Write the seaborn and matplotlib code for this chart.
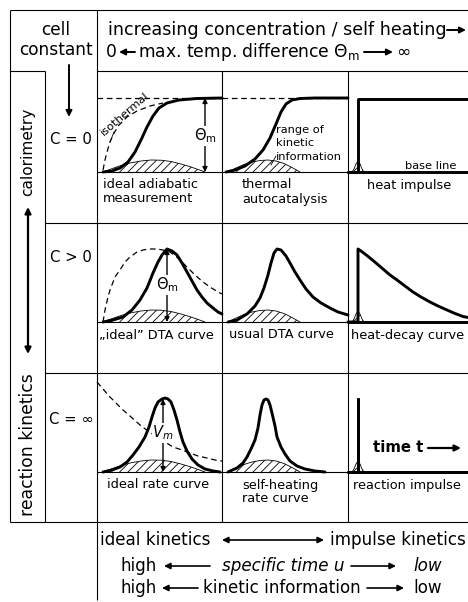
import matplotlib
matplotlib.use("Agg")
import matplotlib.pyplot as plt
import seaborn as sns

sns.set_theme(style="white")
plt.rcParams["font.family"] = ["DejaVu Sans"]
plt.rcParams["mathtext.fontset"] = "dejavusans"
plt.rcParams["hatch.linewidth"] = 0.6

# ---------------- data (panel-local units: px right of panel edge, px above baseline)
R1C1_SOLID_X = [6, 15, 23, 31, 38, 44, 50, 56, 62, 70, 82, 100, 125]
R1C1_SOLID_Y = [0, 1, 4, 10, 20, 32, 45, 56, 64, 69, 72, 73.5, 74]
R1C1_ISO_X = [6, 8, 10, 13, 17, 22, 30, 40, 53, 66]
R1C1_ISO_Y = [2, 12, 20, 30, 39, 47, 55, 61, 66, 69]
R1_TOP_X = [0, 125]
R1_TOP_Y = [74, 74]
R1C2_SOLID_X = [4, 13, 23, 33, 41, 48, 54, 59, 64, 70, 78, 93, 126]
R1C2_SOLID_Y = [0, 2, 6, 13, 22, 34, 48, 60, 68, 72, 73.5, 74, 74]
R1C3_STEP_X = [0, 10, 10, 120]
R1C3_STEP_Y = [0, 0, 73, 73]

R2C1_SOLID_X = [6, 16, 26, 35, 43, 50, 56, 61, 65, 70, 75, 80, 85, 90, 95, 100, 105, 110, 116, 121, 125]
R2C1_SOLID_Y = [0, 2, 5, 12, 22, 34, 49, 60, 67, 73, 71, 67, 59, 50, 41, 32, 25, 19, 14, 10, 8]
R2C1_DASH_X = [6, 8, 11, 13, 18, 23, 28, 33, 40, 46, 53, 60, 66, 73, 81, 90, 98, 106, 113, 121, 125]
R2C1_DASH_Y = [0, 12, 25, 32, 45, 52, 60, 65, 70, 72, 73, 73, 72, 70, 64, 55, 47, 40, 35, 30, 28]
R2C2_SOLID_X = [6, 15, 25, 33, 38, 42, 46, 49, 52, 55, 59, 64, 68, 73, 78, 84, 91, 99, 108, 116, 126]
R2C2_SOLID_Y = [0, 2, 8, 16, 24, 34, 47, 59, 69, 73, 72, 66, 59, 50, 42, 33, 25, 19, 14, 10, 7]
R2C3_DECAY_X = [0, 10, 10, 13, 17, 22, 28, 35, 42, 49, 57, 65, 73, 82, 90, 99, 107, 115, 120]
R2C3_DECAY_Y = [0, 0, 73, 71, 68, 64, 59, 53, 47, 42, 36, 30, 25, 20, 16, 12, 8.5, 5.5, 4.5]

R3C1_DASH_X = [0, 6, 13, 20, 26, 33, 43, 51, 60, 68, 76, 85, 93, 101, 110, 118, 125]
R3C1_DASH_Y = [90, 83, 75, 68, 62, 56, 47, 41, 35, 30, 25, 22, 19, 16, 14, 12, 11]
R3C1_SOLID_X = [6, 15, 23, 30, 36, 42, 48, 52, 55, 58, 61, 65, 68, 71, 74, 77, 80, 83, 86, 90, 95, 101, 108, 116, 123]
R3C1_SOLID_Y = [0, 2, 5, 10, 17, 25, 35, 45, 55, 64, 70, 73, 74, 73, 70, 62, 52, 40, 30, 21, 13, 7, 3, 1, 0]
R3C2_SOLID_X = [6, 15, 21, 25, 29, 33, 36, 38, 40, 42, 44, 46, 48, 50, 53, 55, 59, 63, 68, 75, 83, 93, 103]
R3C2_SOLID_Y = [0, 4, 9, 15, 23, 32, 44, 57, 67, 72, 73, 72, 67, 59, 46, 35, 25, 18, 11, 6, 3, 1, 0]
R3C3_SPIKE_X = [0, 10, 10, 10, 120]
R3C3_SPIKE_Y = [0, 0, 73, 0, 0]

HUMP1_X = [6, 14, 24, 34, 44, 54, 64, 74, 84, 94, 102, 108]
HUMP1_Y = [0, 3, 6.5, 9.2, 11, 12, 11.8, 10.5, 8, 5, 2.2, 0]
HUMP2_X = [6, 14, 22, 30, 38, 46, 54, 62, 70, 78]
HUMP2_Y = [0, 4, 7.5, 10, 11.5, 12, 11, 8.5, 4.5, 0]
HUMP3_X = [4, 6, 8, 10, 12, 14, 16]
HUMP3_Y = [0, 3, 8, 11, 8, 3, 0]

ARROW_HEIGHT = [74, 73, 73]   # Theta_m, Theta_m, V_m
ARROW_X = [108, 70, 66]

C_LABELS = ["C = 0", "C > 0", "C = \u221e"]
PANEL_LABELS = [
    ["ideal adiabatic\nmeasurement", "thermal\nautocatalysis", "heat impulse"],
    ["\u201eideal\u201d DTA curve", "usual DTA curve", "heat-decay curve"],
    ["ideal rate curve", "self-heating\nrate curve", "reaction impulse"],
]

# ---------------- layout
W, H = 468, 602
COL_L = [97, 222, 348]
COL_W = [125, 126, 120]
BASE = [172, 322, 472]
PH = 100

fig = plt.figure(figsize=(W / 100, H / 100), dpi=100)
bg = fig.add_axes([0, 0, 1, 1])
bg.set_xlim(0, W)
bg.set_ylim(H, 0)
bg.axis("off")

K = "black"
thin = 0.8
def rule(xs, ys, lw=thin):
    bg.plot(xs, ys, color=K, lw=lw, solid_capstyle="butt")

# table rules
rule([10, 468], [10, 10])
rule([10, 10], [10, 522])
rule([97, 97], [10, 600])
rule([97, 468], [71, 71])
rule([10, 45], [71, 71])
rule([45, 45], [71, 522])
for x in (222, 348):
    rule([x, x], [71, 522])
for y in (223, 373):
    rule([45, 468], [y, y])
rule([10, 468], [522, 522])
for y in BASE:
    rule([97, 468], [y, y])

groups = {}
indiv = []
def T(x, y, s, group=None, target=None, mode="w", ha="left", va="center", **kw):
    t = bg.text(x, y, s, ha=ha, va=va, fontsize=10, color=K, **kw)
    if group:
        groups.setdefault(group, []).append(t)
    if target:
        indiv.append((t, target, mode))
    return t

def arrow(x0, y0, x1, y1, style="-|>", lw=1.4, ms=9):
    bg.annotate("", xy=(x1, y1), xytext=(x0, y0),
                arrowprops=dict(arrowstyle=style, color=K, lw=lw,
                                mutation_scale=ms, shrinkA=0, shrinkB=0))

# header
T(56, 30, "cell", "cell", ha="center")
T(56, 50, "constant", "cell", ha="center")
head_ref = T(108, 30, "increasing concentration / self heating", "head")
arrow(447, 30, 466, 30)
T(106, 52, "0", "head2")
arrow(135, 52, 119, 52)
head2_ref = T(138, 52, r"max. temp. difference $\Theta_{\rm m}$", "head2")
arrow(364, 52, 393, 52)
T(396, 52, "\u221e", "head2")

# left column
T(28, 152, "calorimetry", target=88, mode="h", ha="center", rotation=90)
T(28, 445, "reaction kinetics", target=142, mode="h", ha="center", rotation=90)
arrow(28, 207, 28, 354, style="<|-|>", lw=1.6, ms=9)
arrow(69, 65, 69, 117, lw=1.4, ms=9)
for lab, y in zip(C_LABELS, [140, 257, 420]):
    T(71, y, lab, "clab", ha="center")

# panel labels
LAB_X = [[103, 242, 367], [99, 229, 351], [107, 242, 353]]
lab_ref = None
for r in range(3):
    for c in range(3):
        for k, ln in enumerate(PANEL_LABELS[r][c].split("\n")):
            t = T(LAB_X[r][c], BASE[r] + 13 + 14 * k, ln, "lab")
            if r == 1 and c == 2:
                lab_ref = t

# small annotations
T(276, 130, "range of", "small")
T(276, 143, "kinetic", "small")
small_ref = T(276, 157, "information", "small")
T(405, 166, "base line", "small")
T(125, 114, "isothermal", "small", ha="center", rotation=41, rotation_mode="anchor")
T(373, 448, "time t", target=50, fontweight="bold")
arrow(428, 448, 461, 448, lw=1.6)

# bottom
T(100, 540, "ideal kinetics", "bot")
arrow(222, 540, 324, 540, style="<|-|>", lw=1.2)
bot_ref = T(330, 540, "impulse kinetics", "bot")
T(121, 566, "high", "bot")
arrow(210, 566, 164, 566, lw=1.2)
T(222, 566, "specific time u", "bot", fontstyle="italic")
arrow(351, 566, 396, 566, lw=1.2)
T(413, 566, "low", "bot", fontstyle="italic")
T(121, 588, "high", "bot")
arrow(198, 588, 162, 588, lw=1.2)
T(203, 588, "kinetic information", "bot")
arrow(367, 588, 404, 588, lw=1.2)
T(413, 588, "low", "bot")

# ---------------- panels
def panel(r, c):
    ax = fig.add_axes([COL_L[c] / W, (H - BASE[r]) / H, COL_W[c] / W, PH / H])
    ax.set_xlim(0, COL_W[c])
    ax.set_ylim(0, PH)
    ax.axis("off")
    ax.patch.set_alpha(0)
    return ax

def curve(ax, xs, ys, lw=2.1, dashed=False):
    kw = dict(linestyle=(0, (4.5, 3))) if dashed else {}
    sns.lineplot(x=xs, y=ys, ax=ax, sort=False, estimator=None, color=K,
                 lw=lw, legend=False, clip_on=False, **kw)

def hump(ax, xs, ys):
    ax.fill_between(xs, 0, ys, facecolor="none", edgecolor=K, hatch="////", linewidth=0)
    curve(ax, xs, ys, lw=0.6)

def vmark(ax, x, h, label, ty):
    ax.annotate("", xy=(x, h), xytext=(x, 0),
                arrowprops=dict(arrowstyle="<|-|>", color=K, lw=1.0,
                                mutation_scale=7, shrinkA=0, shrinkB=0))
    ax.text(x, ty, label, ha="center", va="center", fontsize=10.5, color=K,
            bbox=dict(fc="white", ec="none", pad=0.5))

# row 1
a = panel(0, 0)
hump(a, HUMP1_X, HUMP1_Y)
curve(a, R1_TOP_X, R1_TOP_Y, lw=0.9, dashed=True)
curve(a, R1C1_ISO_X, R1C1_ISO_Y, lw=0.9, dashed=True)
curve(a, R1C1_SOLID_X, R1C1_SOLID_Y)
vmark(a, ARROW_X[0], ARROW_HEIGHT[0], r"$\Theta_{\rm m}$", 36)
a.plot([13, 17], [30, 40], color=K, lw=0.6)
a = panel(0, 1)
hump(a, HUMP2_X, HUMP2_Y)
curve(a, R1_TOP_X, R1_TOP_Y, lw=0.9, dashed=True)
curve(a, R1C2_SOLID_X, R1C2_SOLID_Y)
a.plot([49, 54], [7, 16], color=K, lw=0.6)
a = panel(0, 2)
hump(a, HUMP3_X, HUMP3_Y)
curve(a, R1C3_STEP_X, R1C3_STEP_Y)
curve(a, [0, COL_W[2]], [0, 0])

# row 2
a = panel(1, 0)
hump(a, HUMP1_X, HUMP1_Y)
curve(a, R2C1_DASH_X, R2C1_DASH_Y, lw=0.9, dashed=True)
curve(a, R2C1_SOLID_X, R2C1_SOLID_Y)
vmark(a, ARROW_X[1], ARROW_HEIGHT[1], r"$\Theta_{\rm m}$", 37)
a = panel(1, 1)
hump(a, HUMP2_X, HUMP2_Y)
curve(a, R2C2_SOLID_X, R2C2_SOLID_Y)
a = panel(1, 2)
hump(a, HUMP3_X, HUMP3_Y)
curve(a, R2C3_DECAY_X, R2C3_DECAY_Y)
curve(a, [0, COL_W[2]], [0, 0])

# row 3
a = panel(2, 0)
hump(a, HUMP1_X, HUMP1_Y)
curve(a, R3C1_DASH_X, R3C1_DASH_Y, lw=0.9, dashed=True)
curve(a, R3C1_SOLID_X, R3C1_SOLID_Y)
vmark(a, ARROW_X[2], ARROW_HEIGHT[2], r"$V_{m}$", 39)
a = panel(2, 1)
hump(a, HUMP2_X, HUMP2_Y)
curve(a, R3C2_SOLID_X, R3C2_SOLID_Y)
a = panel(2, 2)
hump(a, HUMP3_X, HUMP3_Y)
curve(a, R3C3_SPIKE_X, R3C3_SPIKE_Y)
curve(a, [0, COL_W[2]], [0, 0])

# ---------------- fit font sizes
fig.canvas.draw()
rend = fig.canvas.get_renderer()

def size_for(t, target, mode="w"):
    bb = t.get_window_extent(renderer=rend)
    cur = bb.width if mode == "w" else bb.height
    return t.get_fontsize() * target / cur

sz = {
    "head": size_for(head_ref, 337),
    "head2": size_for(head2_ref, 222),
    "small": size_for(small_ref, 66),
    "lab": size_for(lab_ref, 113),
    "bot": size_for(bot_ref, 135),
}
sz["cell"] = sz["head"] * 0.97
sz["clab"] = sz["head"] * 0.85
for t, tgt, mode in indiv:
    t.set_fontsize(size_for(t, tgt, mode))
for g, ts in groups.items():
    for t in ts:
        t.set_fontsize(sz[g])

fig.savefig("out.png", dpi=100)
